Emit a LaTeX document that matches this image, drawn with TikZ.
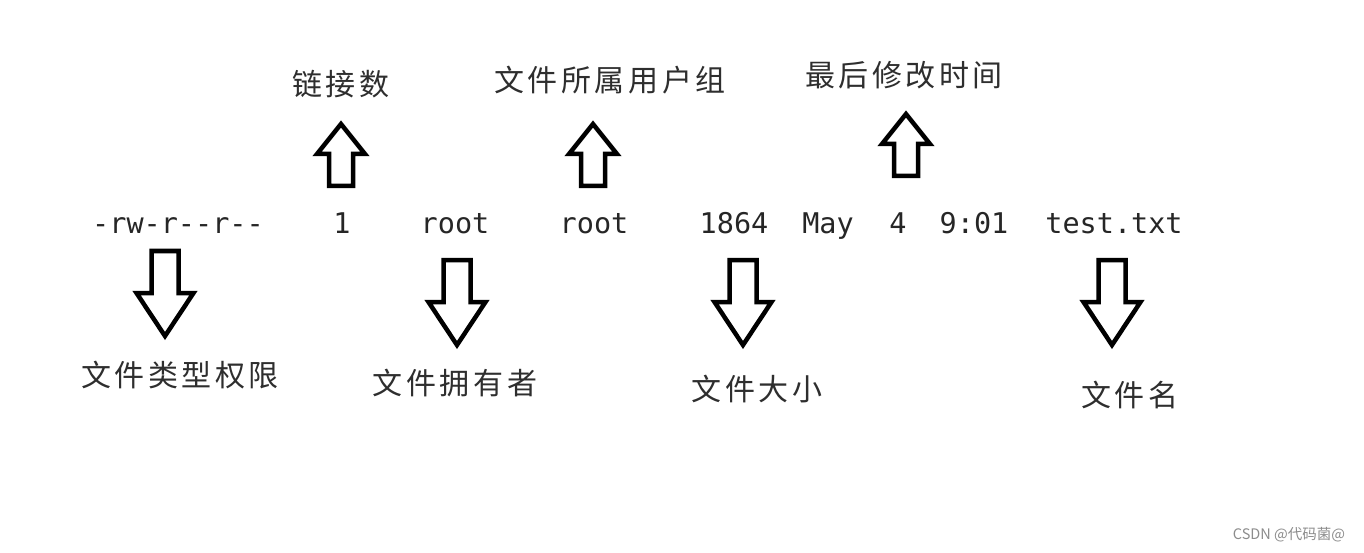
\documentclass[tikz,border=0pt]{standalone}
\usepackage{fontspec}
\newfontfamily\cjk{Noto Sans CJK SC}[LetterSpace=12]
\newfontfamily\cjkplain{Noto Sans CJK SC}
\newfontfamily\mono{DejaVu Sans Mono}
\begin{document}
\begin{tikzpicture}[x=1pt,y=-1pt,
  blockarrow/.style={draw=black, line width=4.5pt, fill=white, line join=miter},
  code/.style={font=\mono\fontsize{28.5}{30}\selectfont, text=black!85, anchor=base, inner sep=0pt},
  cjklabel/.style={font=\cjk\fontsize{30}{32}\selectfont, text=black!82, anchor=center, inner sep=0pt},
  downarrow/.pic={\draw[blockarrow] (-13.5,0) -- (13.5,0) -- (13.5,42) -- (28.5,42) -- (0,85) -- (-28.5,42) -- (-13.5,42) -- cycle;},
  uparrow/.pic={\draw[blockarrow] (0,0) -- (24,30) -- (12,30) -- (12,62) -- (-12,62) -- (-12,30) -- (-24,30) -- cycle;}
]
\useasboundingbox[fill=white] (0,0) rectangle (1364,553);

% listing row
\node[code] (perm) at (178,234) {-rw-r{-}{-}r{-}{-}};
\node[code] (links) at (342,234) {1};
\node[code] (owner) at (455,234) {root};
\node[code] (group) at (594,234) {root};
\node[code] (size) at (734,234) {1864};
\node[code] (month) at (828,234) {May};
\node[code] (day) at (898,234) {4};
\node[code] (time) at (974,234) {9:01};
\node[code] (fname) at (1114,234) {test.txt};

% up arrows
\pic at (341,124) {uparrow};
\pic at (593,124) {uparrow};
\pic at (906,114) {uparrow};

% down arrows
\pic at (165,251) {downarrow};
\pic at (457,260) {downarrow};
\pic at (743,260) {downarrow};
\pic at (1112,260) {downarrow};

% labels
\node[cjklabel] (lLinks) at (341,84) {链接数};
\node[cjklabel] (lGroup) at (610,80) {文件所属用户组};
\node[cjklabel] (lTime) at (904,75) {最后修改时间};
\node[cjklabel] (lPerm) at (180,375) {文件类型权限};
\node[cjklabel] (lOwner) at (455,383) {文件拥有者};
\node[cjklabel] (lSize) at (757,389) {文件大小};
\node[cjklabel] (lName) at (1130,395) {文件名};

% watermark
\node[font=\cjkplain\fontsize{14.5}{16}\selectfont, text=black!45, inner sep=0pt] (wm) at (1289,535) {CSDN @代码菌@};
\end{tikzpicture}
\end{document}
